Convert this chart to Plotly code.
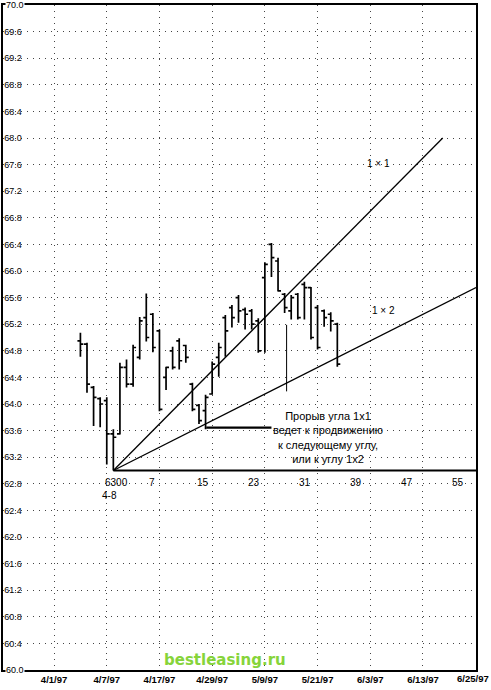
import plotly.graph_objects as go

# ---- data (bar index on the chart's own x axis; dates are tick labels) ----
bar_idx = list(range(4, 44))
opens  = [64.95, 64.90, 64.25, 64.08, 64.05, 63.55, 63.55, 64.55, 64.30, 64.70,
          65.30, 65.35, 65.10, 64.40, 64.80, 64.95, 64.88, 64.30, 63.98, 63.90,
          64.15, 64.70, 65.30, 65.45, 65.60, 65.42, 65.40, 65.25, 65.90, 66.40,
          66.15, 65.65, 65.40, 65.65, 65.80, 65.75, 65.45, 65.40, 65.35, 65.20]
highs  = [65.07, 64.92, 64.27, 64.10, 64.10, 63.62, 64.62, 64.67, 64.89, 65.31,
          65.66, 65.37, 65.12, 64.56, 64.86, 64.99, 64.89, 64.32, 64.00, 64.14,
          64.64, 64.92, 65.34, 65.49, 65.64, 65.45, 65.43, 65.29, 66.13, 66.42,
          66.20, 65.67, 65.64, 65.67, 65.84, 65.76, 65.49, 65.42, 65.38, 65.22]
lows   = [64.71, 64.17, 63.67, 63.65, 63.09, 63.00, 63.54, 64.25, 64.26, 64.67,
          64.94, 64.78, 63.89, 64.21, 64.52, 64.52, 64.62, 63.89, 63.70, 63.62,
          64.14, 64.41, 64.71, 65.15, 65.22, 65.12, 65.12, 64.77, 64.77, 65.91,
          65.69, 65.37, 65.27, 65.27, 65.27, 64.97, 64.82, 65.16, 65.09, 64.56]
closes = [64.90, 64.30, 64.10, 64.00, 63.55, 63.50, 64.55, 64.30, 64.85, 65.25,
          65.00, 64.85, 63.92, 64.55, 64.55, 64.65, 64.70, 63.92, 63.75, 64.10,
          64.60, 64.85, 65.10, 65.30, 65.40, 65.35, 65.20, 64.80, 66.10, 66.20,
          65.70, 65.45, 65.60, 65.30, 65.75, 65.00, 64.85, 65.30, 65.25, 64.60]

date_tick_idx = [0, 8, 16, 24, 32, 40, 48, 56, 64]
date_labels = ["4/1/97", "4/7/97", "4/17/97", "4/29/97", "5/9/97",
               "5/21/97", "6/3/97", "6/13/97", "6/25/97"]

y_ticks = [round(60 + 0.4 * i, 1) for i in range(26)]

# Gann angles from the 4/8 low
origin_idx = 9
origin_price = 63.00
slope_1x1 = 0.10     # price per bar
slope_1x2 = 0.05
end_1x1 = 59
x_min = -7.75
x_max = 64.05
count_labels = [7, 15, 23, 31, 39, 47, 55]

fig = go.Figure()

fig.add_trace(go.Ohlc(
    x=bar_idx, open=opens, high=highs, low=lows, close=closes,
    increasing=dict(line=dict(color="black", width=1.7)),
    decreasing=dict(line=dict(color="black", width=1.7)),
    tickwidth=0.45, showlegend=False, hoverinfo="skip"))

# 1x1 line
fig.add_trace(go.Scatter(
    x=[origin_idx, end_1x1],
    y=[origin_price, origin_price + slope_1x1 * (end_1x1 - origin_idx)],
    mode="lines", line=dict(color="black", width=1.3), showlegend=False, hoverinfo="skip"))
# 1x2 line
fig.add_trace(go.Scatter(
    x=[origin_idx, x_max],
    y=[origin_price, origin_price + slope_1x2 * (x_max - origin_idx)],
    mode="lines", line=dict(color="black", width=1.3), showlegend=False, hoverinfo="skip"))
# horizontal base line at 63.00
fig.add_trace(go.Scatter(
    x=[origin_idx, x_max], y=[origin_price, origin_price],
    mode="lines", line=dict(color="black", width=2.2), showlegend=False, hoverinfo="skip"))
# pointer from annotation to breakout bar
fig.add_trace(go.Scatter(
    x=[23.1, 33.0], y=[63.646, 63.646],
    mode="lines", line=dict(color="black", width=2.2), showlegend=False, hoverinfo="skip"))
# thin vertical marker line
fig.add_trace(go.Scatter(
    x=[35.3, 35.3], y=[65.19, 64.19],
    mode="lines", line=dict(color="black", width=1), showlegend=False, hoverinfo="skip"))

ann = []
lab_font = dict(family="Liberation Sans, Arial", size=10, color="black")
for c in count_labels:
    ann.append(dict(x=8.1 + 0.9675 * c, y=62.82, text=str(c), showarrow=False,
                    font=lab_font, xanchor="center", yanchor="middle"))
ann.append(dict(x=9.5, y=62.82, text="6300", showarrow=False, font=lab_font,
                xanchor="center", yanchor="middle"))
ann.append(dict(x=8.4, y=62.63, text="4-8", showarrow=False, font=lab_font,
                xanchor="center", yanchor="middle"))
ann.append(dict(x=49.2, y=67.62, text="1 × 1", showarrow=False, font=lab_font,
                xanchor="center", yanchor="middle"))
ann.append(dict(x=50.0, y=65.40, text="1 × 2", showarrow=False, font=lab_font,
                xanchor="center", yanchor="middle"))
ann.append(dict(x=41.6, y=63.50,
                text="Прорыв угла 1x1<br>ведет к продвижению<br>к следующему углу,<br>или к углу 1x2",
                showarrow=False, align="center", xanchor="center", yanchor="middle",
                font=dict(family="Liberation Sans, Arial", size=11, color="black")))
# end labels of the price axis (drawn on the frame, as in the original)
tick_font = dict(family="Liberation Sans, Arial", size=9, color="black")
for v in (y_ticks[0], y_ticks[-1]):
    ann.append(dict(x=0.004, xref="paper", y=v, yref="y", text=f"{v:.1f}",
                    showarrow=False, font=tick_font, xanchor="left", yanchor="middle",
                    bgcolor="white", borderpad=0))
# last date label sits on the right frame edge; plotly drops it, so draw it as text
date_font = dict(family="Liberation Sans, Arial", size=9.5, color="black")
ann.append(dict(x=date_tick_idx[-1], xref="x", y=0, yref="paper",
                text=f"<b>{date_labels[-1]}</b>", showarrow=False, font=date_font,
                xanchor="right", yanchor="top", xshift=15, yshift=-1))
ann.append(dict(x=0.47, y=0.015, xref="paper", yref="paper", text="<b>bestleasing.ru</b>",
                showarrow=False, font=dict(family="DejaVu Sans, Arial", size=15, color="#86d43a"),
                xanchor="center", yanchor="middle"))

fig.update_layout(
    width=491, height=690,
    margin=dict(l=3, r=15, t=5, b=20),
    paper_bgcolor="white", plot_bgcolor="white",
    annotations=ann,
    xaxis=dict(range=[x_min, x_max], tickmode="array", tickvals=date_tick_idx[:-1],
               ticktext=[f"<b>{d}</b>" for d in date_labels[:-1]],
               rangeslider=dict(visible=False),
               showgrid=True, gridcolor="#444", griddash="1px,5px", gridwidth=1,
               showline=True, mirror=True, linecolor="black", linewidth=2,
               ticks="", zeroline=False,
               tickfont=date_font),
    yaxis=dict(range=[60, 70], tickmode="array", tickvals=y_ticks,
               ticktext=[f"{v:.1f}" for v in y_ticks],
               ticklabelposition="inside", side="left",
               showgrid=True, gridcolor="#444", griddash="1px,5px", gridwidth=1,
               showline=True, mirror=True, linecolor="black", linewidth=2,
               ticks="", zeroline=False,
               tickfont=tick_font),
)

fig.write_html("out.html", config={"displayModeBar": False},
               post_script="document.body.style.margin='0';document.body.style.overflow='hidden';")
